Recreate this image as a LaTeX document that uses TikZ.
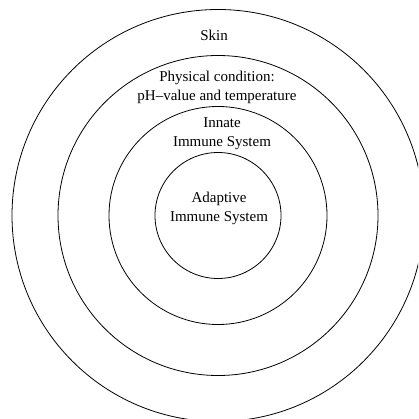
\documentclass[tikz,border=0pt]{standalone}
\usepackage{fontspec}
\setmainfont{Liberation Serif}
\begin{document}
\begin{tikzpicture}[x=1pt,y=-1pt,
  ring/.style={draw=black,line width=0.8pt},
  lbl/.style={align=center,inner sep=0pt,font=\fontsize{15}{19}\selectfont}]
\useasboundingbox (0,0) rectangle (418,419);
\clip (0,0) rectangle (418,419);
\coordinate (c) at (218,215.5);
\draw[ring] (c) circle[radius=206];
\draw[ring] (c) circle[radius=160];
\draw[ring] (c) circle[radius=109];
\draw[ring] (c) circle[radius=63];
\node[lbl] (skin) at (214,35) {Skin};
\node[lbl] (phys) at (217,87) {Physical condition:\\pH–value and temperature};
\node[lbl] (innate) at (222,134) {Innate\\Immune System};
\node[lbl] (adaptive) at (219,208.5) {Adaptive\\Immune System};
\end{tikzpicture}
\end{document}
